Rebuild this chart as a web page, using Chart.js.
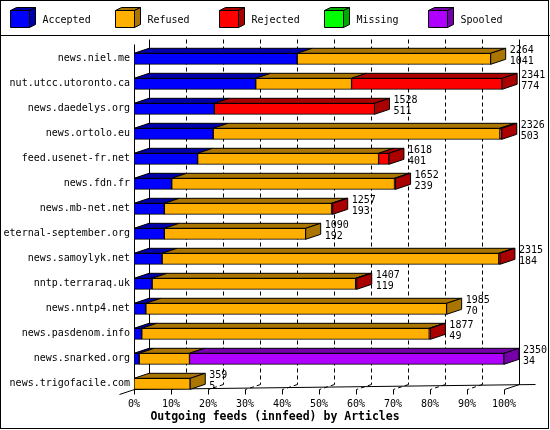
<!DOCTYPE html>
<html lang="en">
<head>
<meta charset="UTF-8">
<title>Outgoing feeds (innfeed) by Articles</title>
<script src="https://cdn.jsdelivr.net/npm/chart.js"></script>
<style>
  body { margin: 0; background: #fff; }
  canvas { display: block; }
</style>
</head>
<body>
<canvas id="feeds" width="550" height="430"></canvas>
<script>
// feeds, top to bottom
const servers = ['news.niel.me', 'nut.utcc.utoronto.ca', 'news.daedelys.org', 'news.ortolo.eu',
  'feed.usenet-fr.net', 'news.fdn.fr', 'news.mb-net.net', 'eternal-september.org',
  'news.samoylyk.net', 'nntp.terraraq.uk', 'news.nntp4.net', 'news.pasdenom.info',
  'news.snarked.org', 'news.trigofacile.com'];

// percent of offered articles
const accepted = [44.1, 32.9, 21.7, 21.4, 17.2, 10.2, 8.2, 8.2, 7.6, 4.9, 3.2, 2.1, 1.4, 0];
const refused  = [52.3, 25.9, 0, 77.5, 48.9, 60.2, 45.2, 38.2, 91.0, 55.0, 81.3, 77.7, 13.6, 15.2];
const rejected = [0, 40.7, 43.3, 0.5, 2.8, 0.3, 0.3, 0, 0.3, 0.3, 0, 0.3, 0, 0];
const missing  = [0, 0, 0, 0, 0, 0, 0, 0, 0, 0, 0, 0, 0, 0];
const spooled  = [0, 0, 0, 0, 0, 0, 0, 0, 0, 0, 0, 0, 85.0, 0];

// the two numbers printed after each bar
const offered     = [2264, 2341, 1528, 2326, 1618, 1652, 1257, 1090, 2315, 1407, 1985, 1877, 2350, 359];
const secondCount = [1041, 774, 511, 503, 401, 239, 193, 192, 184, 119, 70, 49, 34, 5];

const seriesNames = ['Accepted', 'Refused', 'Rejected', 'Missing', 'Spooled'];
const seriesData = [accepted, refused, rejected, missing, spooled];
const faceColors = ['#0000ff', '#ffaf00', '#ff0000', '#00ff00', '#af00ff'];
const darkColors = ['#0000aa', '#aa7500', '#aa0000', '#00aa00', '#7500aa'];

const MONO = '"DejaVu Sans Mono", "Liberation Mono", monospace';
const DX = 15, DY = 5; // depth of the 3d look

function poly(ctx, pts, fill) {
  ctx.beginPath();
  ctx.moveTo(pts[0][0], pts[0][1]);
  for (let i = 1; i < pts.length; i++) ctx.lineTo(pts[i][0], pts[i][1]);
  ctx.closePath();
  ctx.fillStyle = fill;
  ctx.fill();
  ctx.stroke();
}

function line(ctx, x1, y1, x2, y2) {
  ctx.beginPath();
  ctx.moveTo(x1, y1);
  ctx.lineTo(x2, y2);
  ctx.stroke();
}

// frame, back grid and floor, behind the bars
const backFrame = {
  id: 'backFrame',
  beforeDatasetsDraw(chart) {
    const ctx = chart.ctx;
    const area = chart.chartArea;
    const x = chart.scales.x;
    const floorY = Math.round(area.bottom) - 7 + 0.5;
    const topY = Math.round(area.top) - 2 + 0.5;
    ctx.save();
    ctx.strokeStyle = '#000';
    ctx.lineWidth = 1;
    for (let v = 0; v <= 100; v += 10) {
      const fx = Math.round(x.getPixelForValue(v)) + 0.5;
      const bx = fx + DX;
      ctx.setLineDash(v === 0 || v === 100 ? [] : [4, 3]);
      line(ctx, bx, topY - DY, bx, floorY - DY);
      if (v > 0 && v < 100) line(ctx, bx, floorY - DY, fx, floorY);
      ctx.setLineDash([]);
      line(ctx, fx, floorY, fx, floorY + 5);
    }
    const x0 = Math.round(x.getPixelForValue(0)) + 0.5;
    const x100 = Math.round(x.getPixelForValue(100)) + 0.5;
    line(ctx, x0, topY, x0, floorY);
    line(ctx, x0 - DX, floorY + DY, x0, floorY);
    line(ctx, x0, floorY, x100 + DX + 16, floorY - DY);
    line(ctx, x100 + DX, floorY - DY, x100, floorY);
    ctx.restore();
  },
  afterDatasetsDraw(chart) {
    const ctx = chart.ctx;
    ctx.save();
    ctx.strokeStyle = '#000';
    ctx.lineWidth = 1;
    const rows = servers.length;
    for (let j = 0; j < rows; j++) {
      let last = null, lastDs = -1;
      seriesData.forEach((arr, i) => {
        if (!arr[j]) return;
        const bar = chart.getDatasetMeta(i).data[j];
        const top = bar.y - bar.height / 2;
        const l = Math.min(bar.base, bar.x), r = Math.max(bar.base, bar.x);
        poly(ctx, [[l, top], [l + DX, top - DY], [r + DX, top - DY], [r, top]], darkColors[i]);
        last = bar; lastDs = i;
      });
      if (!last) continue;
      const top = last.y - last.height / 2, bot = last.y + last.height / 2;
      const r = Math.max(last.base, last.x);
      poly(ctx, [[r, top], [r + DX, top - DY], [r + DX, bot - DY], [r, bot]], darkColors[lastDs]);
      ctx.fillStyle = '#000';
      ctx.font = '10px ' + MONO;
      ctx.textAlign = 'left';
      ctx.textBaseline = 'middle';
      ctx.fillText(String(offered[j]), r + DX + 4, top - 3);
      ctx.fillText(String(secondCount[j]), r + DX + 4, top + 8.5);
    }
    ctx.restore();
  }
};

// legend strip with little cubes, and the outer border
const cubeLegend = {
  id: 'cubeLegend',
  afterDraw(chart) {
    const ctx = chart.ctx;
    ctx.save();
    ctx.strokeStyle = '#000';
    ctx.lineWidth = 1;
    seriesNames.forEach((name, i) => {
      const x = Math.round(10 + i * 104.5) + 0.5, y = 10.5, w = 19, h = 17, dx = 6, dy = 3;
      poly(ctx, [[x, y], [x + dx, y - dy], [x + w + dx, y - dy], [x + w, y]], darkColors[i]);
      poly(ctx, [[x + w, y], [x + w + dx, y - dy], [x + w + dx, y + h - dy], [x + w, y + h]], darkColors[i]);
      poly(ctx, [[x, y], [x + w, y], [x + w, y + h], [x, y + h]], faceColors[i]);
      ctx.fillStyle = '#000';
      ctx.font = '10px ' + MONO;
      ctx.textAlign = 'left';
      ctx.textBaseline = 'middle';
      ctx.fillText(name, x + 32, 20);
    });
    line(ctx, 0, 35.5, 550, 35.5);
    ctx.strokeRect(0.5, 0.5, 548, 428);
    ctx.restore();
  }
};

new Chart(document.getElementById('feeds'), {
  type: 'bar',
  data: {
    labels: servers,
    datasets: seriesData.map((arr, i) => ({
      label: seriesNames[i],
      data: arr,
      backgroundColor: faceColors[i],
      borderColor: '#000',
      borderWidth: 1,
      borderSkipped: false,
      barThickness: 11
    }))
  },
  options: {
    indexAxis: 'y',
    responsive: false,
    animation: false,
    layout: { padding: { top: 46.3, left: 0, right: 0, bottom: 0 } },
    scales: {
      x: {
        stacked: true,
        min: 0,
        max: 100,
        grid: { display: false, drawTicks: false },
        border: { display: false },
        ticks: {
          stepSize: 10,
          autoSkip: false,
          maxRotation: 0,
          padding: 2,
          color: '#000',
          font: { family: MONO, size: 10 },
          callback: v => v + '%'
        },
        afterFit: s => { s.height = 13.9; }
      },
      y: {
        stacked: true,
        grid: { display: false, drawTicks: false },
        border: { display: false },
        ticks: {
          padding: 4,
          color: '#000',
          font: { family: MONO, size: 10 }
        },
        afterFit: s => { s.width = 134; }
      },
      y2: {
        type: 'category',
        position: 'right',
        grid: { display: false, drawTicks: false },
        border: { display: false },
        ticks: { display: false },
        afterFit: s => { s.width = 46; }
      }
    },
    plugins: {
      legend: { display: false },
      tooltip: { enabled: false },
      title: {
        display: true,
        position: 'bottom',
        text: 'Outgoing feeds (innfeed) by Articles',
        color: '#000',
        font: { family: MONO, size: 11.5, weight: 'bold', lineHeight: 1.2 },
        padding: { top: 0, bottom: 6 }
      }
    }
  },
  plugins: [backFrame, cubeLegend]
});
</script>
</body>
</html>
